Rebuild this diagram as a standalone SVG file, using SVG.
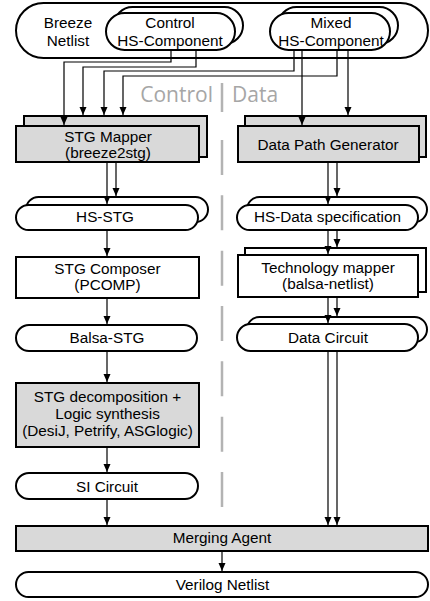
<svg xmlns="http://www.w3.org/2000/svg" width="430" height="601" viewBox="0 0 430 601">
<style>
.s{fill:#fff;stroke:#000;stroke-width:2}
.g{fill:#d9d9d9;stroke:#000;stroke-width:2}
.t{font-family:"Liberation Sans",Arial,sans-serif;font-size:15.3px;fill:#000;text-anchor:middle}
.lbl{font-family:"Open Sans","Liberation Sans",sans-serif;font-size:21px;fill:#a6a6a6}
.c{fill:none;stroke:#000;stroke-width:1.2;marker-end:url(#ah)}
.div{stroke:#b3b3b3;stroke-width:2.5;fill:none}
</style>
<defs>
<marker id="ah" markerUnits="userSpaceOnUse" markerWidth="8" markerHeight="8" refX="8" refY="3.5" orient="auto">
<path d="M0,0 L8,3.5 L0,7 z" fill="#000"/>
</marker>
</defs>

<g id="breeze-netlist">
<rect class="s" x="16" y="3" width="412" height="55" rx="27.5"/>
<text class="t" x="68" y="28">Breeze</text>
<text class="t" x="68" y="46">Netlist</text>
</g>
<g id="control-hs">
<rect class="s" x="114" y="7" width="129" height="37" rx="18.5"/>
<rect class="s" x="106" y="13" width="129" height="37" rx="18.5"/>
<text class="t" x="170" y="28">Control</text>
<text class="t" x="170" y="46">HS-Component</text>
</g>
<g id="mixed-hs">
<rect class="s" x="278" y="7" width="120" height="37" rx="18.5"/>
<rect class="s" x="270" y="13" width="120" height="37" rx="18.5"/>
<text class="t" x="331" y="28">Mixed</text>
<text class="t" x="331" y="46">HS-Component</text>
</g>

<g id="labels">
<text class="lbl" x="213" y="102" text-anchor="end">Control</text>
<text class="lbl" x="232" y="102">Data</text>
<line class="div" x1="222" y1="83" x2="222" y2="112"/>
<line class="div" x1="222" y1="140" x2="222" y2="507" stroke-dasharray="35 20.33"/>
</g>

<g id="stg-mapper">
<rect class="g" x="24" y="116" width="183" height="41"/>
<rect class="g" x="16" y="126" width="183" height="36"/>
<text class="t" x="108" y="142">STG Mapper</text>
<text class="t" x="108" y="158">(breeze2stg)</text>
</g>
<g id="data-path-generator">
<rect class="g" x="245" y="116" width="181" height="41"/>
<rect class="g" x="238" y="126" width="181" height="36"/>
<text class="t" x="328" y="149.5">Data Path Generator</text>
</g>

<g id="hs-stg">
<rect class="s" x="26" y="197" width="182" height="25" rx="12.5"/>
<rect class="s" x="16" y="205" width="182" height="25" rx="12.5"/>
<text class="t" x="105" y="222">HS-STG</text>
</g>
<g id="hs-data-spec">
<rect class="s" x="247" y="197" width="180" height="25" rx="12.5"/>
<rect class="s" x="237" y="205" width="181" height="25" rx="12.5"/>
<text class="t" x="327.5" y="222">HS-Data specification</text>
</g>

<g id="stg-composer">
<rect class="s" x="16" y="257" width="183" height="41"/>
<text class="t" x="107.5" y="274">STG Composer</text>
<text class="t" x="107.5" y="290">(PCOMP)</text>
</g>
<g id="technology-mapper">
<rect class="s" x="245" y="248" width="181" height="44"/>
<rect class="s" x="238" y="255" width="180" height="42"/>
<text class="t" x="328" y="273">Technology mapper</text>
<text class="t" x="328" y="289">(balsa-netlist)</text>
</g>

<g id="balsa-stg">
<rect class="s" x="16" y="325" width="181" height="26" rx="13"/>
<text class="t" x="107" y="343">Balsa-STG</text>
</g>
<g id="data-circuit">
<rect class="s" x="247" y="317" width="180" height="25" rx="12.5"/>
<rect class="s" x="237" y="324" width="181" height="27" rx="13.5"/>
<text class="t" x="328" y="343">Data Circuit</text>
</g>

<g id="stg-decomposition">
<rect class="g" x="16" y="383" width="183" height="64"/>
<text class="t" x="107.5" y="402">STG decomposition +</text>
<text class="t" x="107.5" y="419">Logic synthesis</text>
<text class="t" x="107.5" y="436">(DesiJ, Petrify, ASGlogic)</text>
</g>

<g id="si-circuit">
<rect class="s" x="16" y="473" width="182" height="26" rx="13"/>
<text class="t" x="107" y="492">SI Circuit</text>
</g>

<g id="merging-agent">
<rect class="g" x="16" y="526" width="412" height="25"/>
<text class="t" x="222" y="543">Merging Agent</text>
</g>

<g id="verilog-netlist">
<rect class="s" x="16" y="572" width="412" height="25" rx="12.5"/>
<text class="t" x="222.5" y="589.5">Verilog Netlist</text>
</g>

<g id="connectors">
<path class="c" d="M171,50 V62 H64 V125"/>
<path class="c" d="M196,50 V67 H83 V115"/>
<path class="c" d="M294,50 V71 H104 V115"/>
<path class="c" d="M337,50 V76 H123 V115"/>
<path class="c" d="M302,50 V125"/>
<path class="c" d="M348,50 V115"/>
<path class="c" d="M107,162 V204"/>
<path class="c" d="M116,162 V196"/>
<path class="c" d="M328,162 V204"/>
<path class="c" d="M337,162 V196"/>
<path class="c" d="M107,230 V256"/>
<path class="c" d="M328,230 V254"/>
<path class="c" d="M337,230 V247"/>
<path class="c" d="M107,298 V324"/>
<path class="c" d="M328,297 V323"/>
<path class="c" d="M337,297 V316"/>
<path class="c" d="M107,351 V382"/>
<path class="c" d="M107,447 V472"/>
<path class="c" d="M107,499 V525"/>
<path class="c" d="M328,351 V525"/>
<path class="c" d="M337,351 V525"/>
<path class="c" d="M222,551 V571"/>
</g>
</svg>
